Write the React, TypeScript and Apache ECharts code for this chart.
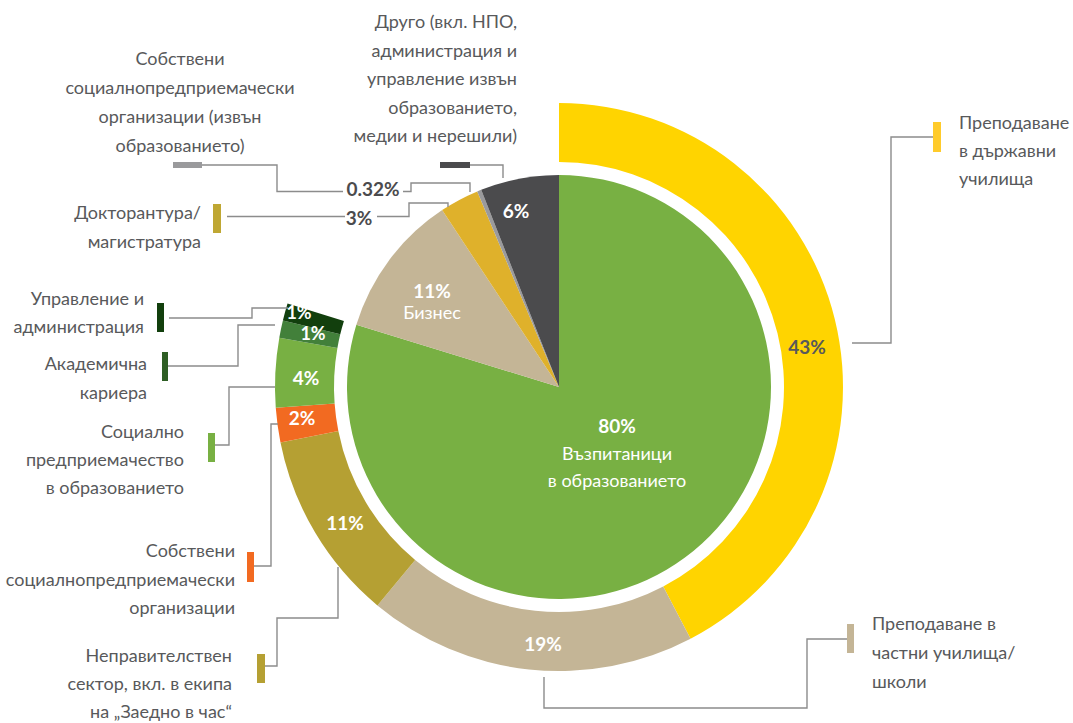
import React, { useEffect, useRef } from "react";
import * as echarts from "echarts";

// ---------- data ----------
const innerNames = [
  "Възпитаници в образованието",
  "Бизнес",
  "Докторантура/магистратура",
  "Собствени социалнопредприемачески организации (извън образованието)",
  "Друго (вкл. НПО, администрация и управление извън образованието, медии и нерешили)",
];
const innerValues = [80, 11, 3, 0.32, 6];
const innerColors = ["#78B043", "#C4B596", "#DFB12B", "#9A9A9C", "#4B4B4D"];

const outerNames = [
  "Преподаване в държавни училища",
  "Преподаване в частни училища/школи",
  "Неправителствен сектор, вкл. в екипа на „Заедно в час“",
  "Собствени социалнопредприемачески организации",
  "Социално предприемачество в образованието",
  "Академична кариера",
  "Управление и администрация",
];
const outerValues = [43, 19, 11, 2, 4, 1, 1];
const outerColors = ["#FFD400", "#C4B596", "#B5A033", "#F26A21", "#78B043", "#42803A", "#123F0D"];

// ---------- layout (positions / styles) ----------
const CX = 559;
const CY = 387;
const FONT = 'Lato, "Noto Sans", sans-serif';
const TEXT = "#58595B";
const LINE = "#8C8C8C";

type Block = { lines: string[]; x: number; y: number; lh: number; align: "left" | "right" | "center" };
const nameBlocks: Block[] = [
  { lines: ["Собствени", "социалнопредприемачески", "организации (извън", "образованието)"], x: 180, y: 58, lh: 29, align: "center" },
  { lines: ["Докторантура/", "магистратура"], x: 201, y: 212, lh: 28.5, align: "right" },
  { lines: ["Друго (вкл. НПО,", "администрация и", "управление извън", "образованието,", "медии и нерешили)"], x: 517, y: 21, lh: 28.5, align: "right" },
  { lines: ["Управление и", "администрация"], x: 144, y: 298, lh: 28, align: "right" },
  { lines: ["Академична", "кариера"], x: 147, y: 363, lh: 29, align: "right" },
  { lines: ["Социално", "предприемачество", "в образованието"], x: 184, y: 431, lh: 28, align: "right" },
  { lines: ["Собствени", "социалнопредприемачески", "организации"], x: 235, y: 550, lh: 28.5, align: "right" },
  { lines: ["Неправителствен", "сектор, вкл. в екипа", "на „Заедно в час“"], x: 232, y: 655, lh: 28, align: "right" },
  { lines: ["Преподаване", "в държавни", "училища"], x: 959, y: 122, lh: 28, align: "left" },
  { lines: ["Преподаване в", "частни училища/", "школи"], x: 872, y: 623, lh: 29, align: "left" },
];

const markers: { x: number; y: number; w: number; h: number; c: string }[] = [
  { x: 173, y: 162, w: 29, h: 6, c: "#9A9A9C" },
  { x: 213, y: 204, w: 8, h: 29, c: "#BFA733" },
  { x: 440, y: 162, w: 30, h: 6, c: "#4B4B4D" },
  { x: 157, y: 303, w: 7, h: 29, c: "#123F0D" },
  { x: 162, y: 352, w: 6, h: 29, c: "#2E5E24" },
  { x: 208, y: 433, w: 7, h: 29, c: "#78B043" },
  { x: 247, y: 552, w: 7, h: 30, c: "#F26A21" },
  { x: 257, y: 654, w: 8, h: 29, c: "#B5A033" },
  { x: 933, y: 122, w: 8, h: 30, c: "#FFCB2B" },
  { x: 847, y: 624, w: 7, h: 29, c: "#C4B596" },
];

const leaders: number[][][] = [
  [[202, 165], [277, 165], [277, 191.5], [343, 191.5]],
  [[403, 191.5], [411, 191.5], [411, 183], [470, 183], [470, 192]],
  [[227, 216.5], [345, 216.5]],
  [[377, 216.5], [409, 216.5], [409, 203], [448, 203], [448, 207]],
  [[470, 165], [503, 165], [503, 178]],
  [[169, 318], [252, 318], [252, 308], [288, 308]],
  [[168, 366], [238, 366], [238, 325], [275, 325]],
  [[215, 445], [229, 445], [229, 387], [275, 387]],
  [[254, 566], [271, 566], [271, 424], [278, 424]],
  [[265, 666], [277, 666], [277, 618], [338, 618], [338, 567]],
  [[933, 137], [891, 137], [891, 343], [852, 343]],
  [[847, 639], [807, 639], [807, 708], [544, 708], [544, 677]],
];

// percent label positions: [x, y, color]
const innerPctPos: [number, number, string][] = [
  [617, 425, "#FFFFFF"],
  [432, 290, "#FFFFFF"],
  [359, 217, "#4B4B4D"],
  [373, 188, "#4B4B4D"],
  [516, 210, "#FFFFFF"],
];
const outerPctPos: [number, number, string][] = [
  [807, 346, TEXT],
  [543, 643, "#FFFFFF"],
  [345, 522, "#FFFFFF"],
  [302, 417, "#FFFFFF"],
  [306, 377, "#FFFFFF"],
  [313, 333, "#FFFFFF"],
  [299, 312, "#FFFFFF"],
];

function pct(v: number) {
  return `${v}%`;
}

export default function App() {
  const ref = useRef<HTMLDivElement>(null);
  useEffect(() => {
    if (!ref.current) return;
    const chart = echarts.init(ref.current, null, { renderer: "svg" });

    const innerSum = innerValues.reduce((a, b) => a + b, 0);
    const outerSum = outerValues.reduce((a, b) => a + b, 0);
    // the outer ring spans exactly the angle of the first inner slice
    const filler = (outerSum * (innerSum - innerValues[0])) / innerValues[0];

    const elements: any[] = [];
    leaders.forEach((pts) =>
      elements.push({
        type: "polyline",
        silent: true,
        z: 100,
        shape: { points: pts },
        style: { stroke: LINE, lineWidth: 1.4, fill: null },
      })
    );
    markers.forEach((m) =>
      elements.push({
        type: "rect",
        silent: true,
        z: 100,
        shape: { x: m.x, y: m.y, width: m.w, height: m.h },
        style: { fill: m.c },
      })
    );
    nameBlocks.forEach((b) =>
      b.lines.forEach((ln, i) =>
        elements.push({
          type: "text",
          silent: true,
          z: 100,
          x: b.x,
          y: b.y + i * b.lh,
          style: {
            text: ln,
            fill: TEXT,
            fontSize: 18,
            fontFamily: FONT,
            align: b.align,
            verticalAlign: "middle",
          },
        })
      )
    );
    const pctText = (t: string, x: number, y: number, c: string, size = 19) => ({
      type: "text",
      silent: true,
      z: 100,
      x,
      y,
      style: { text: t, fill: c, fontSize: size, fontWeight: "bold", fontFamily: FONT, align: "center", verticalAlign: "middle" },
    });
    innerValues.forEach((v, i) => {
      const [x, y, c] = innerPctPos[i];
      elements.push(pctText(pct(v), x, y, c));
    });
    outerValues.forEach((v, i) => {
      const [x, y, c] = outerPctPos[i];
      elements.push(pctText(pct(v), x, y, c, i >= 5 ? 18 : 19));
    });
    // inner slice captions
    const cap = (t: string, x: number, y: number) => ({
      type: "text",
      silent: true,
      z: 100,
      x,
      y,
      style: { text: t, fill: "#FFFFFF", fontSize: 18, fontFamily: FONT, align: "center", verticalAlign: "middle" },
    });
    elements.push(cap("Възпитаници", 617, 453));
    elements.push(cap("в образованието", 617, 480));
    elements.push(cap("Бизнес", 432, 312));

    chart.setOption({
      animation: false,
      series: [
        {
          type: "pie",
          center: [CX, CY],
          radius: [0, 212],
          startAngle: 90,
          clockwise: true,
          silent: true,
          label: { show: false },
          labelLine: { show: false },
          emphasis: { disabled: true },
          itemStyle: { borderWidth: 0 },
          data: innerValues.map((v, i) => ({ name: innerNames[i], value: v, itemStyle: { color: innerColors[i] } })),
        },
        {
          type: "pie",
          center: [CX, CY],
          radius: [225, 284],
          startAngle: 90,
          clockwise: true,
          silent: true,
          label: { show: false },
          labelLine: { show: false },
          emphasis: { disabled: true },
          itemStyle: { borderWidth: 0 },
          data: [
            ...outerValues.map((v, i) => ({ name: outerNames[i], value: v, itemStyle: { color: outerColors[i] } })),
            { name: "", value: filler, itemStyle: { color: "rgba(0,0,0,0)" } },
          ],
        },
      ],
      graphic: { elements },
    });
    return () => chart.dispose();
  }, []);
  return <div ref={ref} style={{ position: "fixed", left: 0, top: 0, width: 1073, height: 723, background: "#fff" }} />;
}
